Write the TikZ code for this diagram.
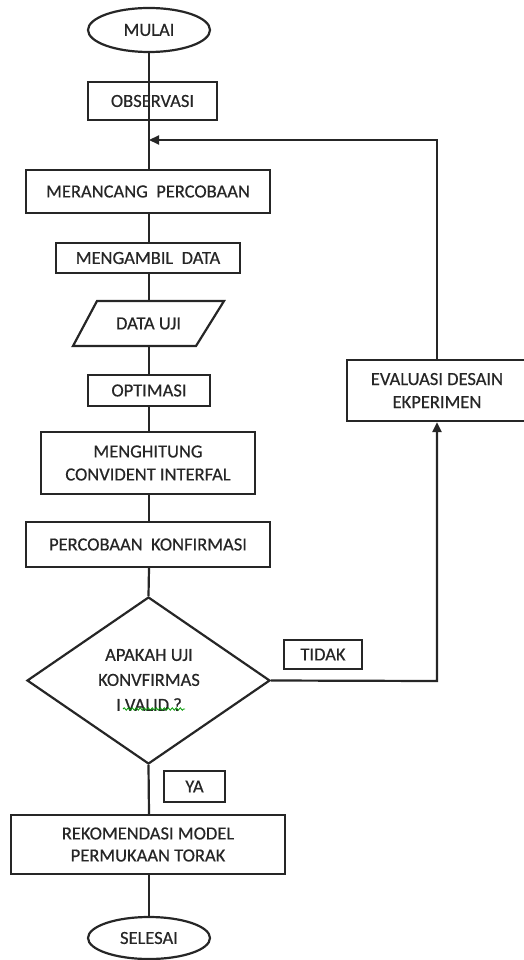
\documentclass[tikz,border=0pt]{standalone}
\usepackage{fontspec}
\setmainfont{Carlito}[FakeBold=0.5]
\usetikzlibrary{shapes.geometric,arrows.meta,decorations.pathmorphing}
\begin{document}
\begin{tikzpicture}[x=1pt,y=-1pt,
  every node/.style={font=\fontsize{18.5}{23}\selectfont, text=black!85},
  conn/.style={line width=2.2pt, draw=black!85},
  arr/.style={conn, -{Triangle[length=10pt,width=9pt]}},
  boxnode/.style={draw=black!85, line width=2.2pt, rectangle, inner sep=0pt, align=center},
  termnode/.style={draw=black!85, line width=2.2pt, ellipse, inner sep=0pt},
  decnode/.style={draw=black!85, line width=2.2pt, diamond, inner sep=0pt, align=center},
  lblnode/.style={draw=black!85, line width=2.2pt, rectangle, inner sep=0pt}
]
\useasboundingbox (0,0) rectangle (523,960);
\node[termnode, minimum width=122pt, minimum height=44pt] (mulai) at (149,30) {MULAI};
\node[boxnode, minimum width=129pt, minimum height=38pt] (obs) at (152.5,101) {OBSERVASI};
\node[boxnode, minimum width=244pt, minimum height=43pt] (mer) at (148,191.5) {MERANCANG\ \ PERCOBAAN};
\node[boxnode, minimum width=184pt, minimum height=30pt] (ambil) at (148,258) {MENGAMBIL\ \ DATA};
\node[minimum width=110pt, minimum height=45pt, inner sep=0pt] (uji) at (148.5,323.5) {DATA UJI};
\draw[line width=2.2pt, draw=black!85] (97,301) -- (224,301) -- (196,346) -- (73,346) -- cycle;
\node[boxnode, minimum width=122pt, minimum height=31pt] (opt) at (149,390.5) {OPTIMASI};
\node[boxnode, minimum width=214pt, minimum height=62pt] (hit) at (148,463) {MENGHITUNG\\CONVIDENT INTERFAL};
\node[boxnode, minimum width=244pt, minimum height=45pt] (konf) at (148,544.5) {PERCOBAAN\ \ KONFIRMASI};
\node[decnode, minimum width=243pt, minimum height=167pt] (dec) at (148.5,680.5) {};
\node[align=center, font=\fontsize{18.5}{25}\selectfont] (dectext) at (149,680) {APAKAH UJI\\KONVFIRMAS\\I VALID ?};
\draw[green!60!black, line width=0.8pt, decorate, decoration={snake, amplitude=1.2pt, segment length=4pt}] (123,709) -- (185,709);
\node[lblnode, minimum width=78pt, minimum height=29pt] (tidak) at (323,654.5) {TIDAK};
\node[boxnode, minimum width=180pt, minimum height=61pt] (eval) at (437,390.5) {EVALUASI DESAIN\\EKPERIMEN};
\node[lblnode, minimum width=61pt, minimum height=31pt] (ya) at (194.5,786.5) {YA};
\node[boxnode, minimum width=274pt, minimum height=59pt, font=\fontsize{18.5}{22}\selectfont] (rek) at (148,844.5) {REKOMENDASI MODEL\\PERMUKAAN TORAK};
\node[termnode, minimum width=122pt, minimum height=42pt] (selesai) at (149,938) {SELESAI};
\coordinate (join) at (149,140);
\coordinate (rc) at (437,681);
\coordinate (tc) at (437,140);
\draw[conn] (mulai.south) -- (mulai.south |- obs.south);
\draw[conn] (mulai.south |- obs.south) -- (mulai.south |- mer.north);
\draw[conn] (mulai.south |- mer.south) -- (mulai.south |- ambil.north);
\draw[conn] (mulai.south |- ambil.south) -- (mulai.south |- uji.north);
\draw[conn] (mulai.south |- uji.south) -- (mulai.south |- opt.north);
\draw[conn] (opt.south) -- (mulai.south |- hit.north);
\draw[conn] (mulai.south |- hit.south) -- (mulai.south |- konf.north);
\draw[conn] (mulai.south |- konf.south) -- (dec.north);
\draw[conn] (dec.south) -- (mulai.south |- rek.north);
\draw[conn] (mulai.south |- rek.south) -- (selesai.north);
\draw[arr] (dec.east) -- (rc) -- (eval.south);
\draw[arr] (eval.north) -- (tc) -- (join);
\end{tikzpicture}
\end{document}
